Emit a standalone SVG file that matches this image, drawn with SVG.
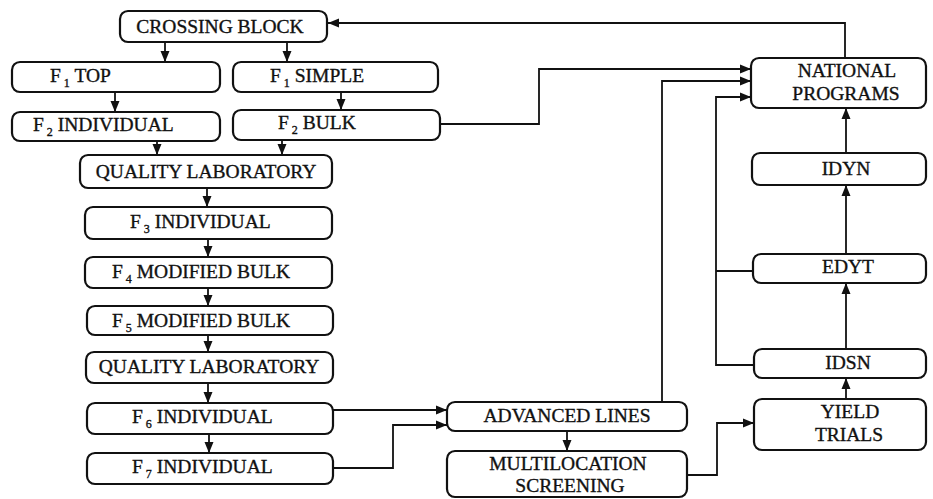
<svg xmlns="http://www.w3.org/2000/svg" width="933" height="499" viewBox="0 0 933 499">
  <defs>
    <marker id="arr" markerUnits="userSpaceOnUse" markerWidth="12" markerHeight="10" refX="11" refY="5" orient="auto">
      <path d="M0,0.5 L11,5 L0,9.5 z" fill="#111"/>
    </marker>
    <style>
      .box { fill: #fff; stroke: #111; stroke-width: 2.2; }
      .lbl { font-family: "Liberation Serif", "Times New Roman", serif; font-size: 19.5px; fill: #111; stroke: #111; stroke-width: 0.35; }
      .sub { font-size: 12px; }
      .mid { text-anchor: middle; }
      .con { fill: none; stroke: #111; stroke-width: 1.8; }
      .arr { marker-end: url(#arr); }
    </style>
  </defs>
  <rect width="933" height="499" fill="#fff"/>

  <!-- connectors -->
  <g id="connectors">
    <path class="con arr" d="M845,58 V23 H328"/>
    <path class="con arr" d="M165,42 V62"/>
    <path class="con arr" d="M287,42 V62"/>
    <path class="con arr" d="M115,92 V112"/>
    <path class="con arr" d="M341,92 V110"/>
    <path class="con arr" d="M157,141 V155"/>
    <path class="con arr" d="M282,140 V155"/>
    <path class="con arr" d="M207,188 V207"/>
    <path class="con arr" d="M208,239 V257"/>
    <path class="con arr" d="M208,288 V306"/>
    <path class="con arr" d="M208,335 V352"/>
    <path class="con arr" d="M208,383 V403"/>
    <path class="con arr" d="M209,434 V453"/>
    <path class="con arr" d="M333,410 H447"/>
    <path class="con arr" d="M333,468 H393 V425 H447"/>
    <path class="con arr" d="M567,431 V451"/>
    <path class="con arr" d="M440,124 H539 V69 H751"/>
    <path class="con arr" d="M662,402 V81 H751"/>
    <path class="con arr" d="M754,365 H716 V97 H751"/>
    <path class="con" d="M753,271 H716"/>
    <path class="con arr" d="M687,475 H717 V423 H754"/>
    <path class="con arr" d="M846,399 V378"/>
    <path class="con arr" d="M846,349 V283"/>
    <path class="con arr" d="M846,254 V185"/>
    <path class="con arr" d="M846,153 V108"/>
  </g>

  <!-- breeding flow, left column -->
  <g id="crossing-block">
    <rect class="box" x="120" y="11" width="207" height="31" rx="8"/>
    <text class="lbl mid" x="220" y="33">CROSSING BLOCK</text>
  </g>
  <g id="f1-top">
    <rect class="box" x="12" y="62" width="208" height="30" rx="8"/>
    <text class="lbl" x="50" y="82">F<tspan class="sub" dx="3" dy="5">1</tspan><tspan dy="-5"> TOP</tspan></text>
  </g>
  <g id="f1-simple">
    <rect class="box" x="233" y="62" width="205" height="30" rx="8"/>
    <text class="lbl" x="270" y="82">F<tspan class="sub" dx="3" dy="5">1</tspan><tspan dy="-5"> SIMPLE</tspan></text>
  </g>
  <g id="f2-individual">
    <rect class="box" x="12" y="112" width="208" height="29" rx="8"/>
    <text class="lbl" x="33" y="131">F<tspan class="sub" dx="3" dy="5">2</tspan><tspan dy="-5"> INDIVIDUAL</tspan></text>
  </g>
  <g id="f2-bulk">
    <rect class="box" x="233" y="110" width="207" height="30" rx="8"/>
    <text class="lbl" x="278" y="129">F<tspan class="sub" dx="3" dy="5">2</tspan><tspan dy="-5"> BULK</tspan></text>
  </g>
  <g id="quality-lab-1">
    <rect class="box" x="80" y="155" width="252" height="33" rx="8"/>
    <text class="lbl mid" x="206" y="178">QUALITY LABORATORY</text>
  </g>
  <g id="f3-individual">
    <rect class="box" x="85" y="207" width="247" height="32" rx="8"/>
    <text class="lbl" x="130" y="228">F<tspan class="sub" dx="3" dy="5">3</tspan><tspan dy="-5"> INDIVIDUAL</tspan></text>
  </g>
  <g id="f4-modified-bulk">
    <rect class="box" x="85" y="257" width="247" height="31" rx="8"/>
    <text class="lbl" x="112" y="278">F<tspan class="sub" dx="3" dy="5">4</tspan><tspan dy="-5"> MODIFIED BULK</tspan></text>
  </g>
  <g id="f5-modified-bulk">
    <rect class="box" x="87" y="306" width="246" height="29" rx="8"/>
    <text class="lbl" x="112" y="327">F<tspan class="sub" dx="3" dy="5">5</tspan><tspan dy="-5"> MODIFIED BULK</tspan></text>
  </g>
  <g id="quality-lab-2">
    <rect class="box" x="86" y="352" width="247" height="31" rx="8"/>
    <text class="lbl mid" x="209" y="373">QUALITY LABORATORY</text>
  </g>
  <g id="f6-individual">
    <rect class="box" x="87" y="403" width="246" height="31" rx="8"/>
    <text class="lbl" x="132" y="423">F<tspan class="sub" dx="3" dy="5">6</tspan><tspan dy="-5"> INDIVIDUAL</tspan></text>
  </g>
  <g id="f7-individual">
    <rect class="box" x="87" y="453" width="246" height="31" rx="8"/>
    <text class="lbl" x="132" y="473">F<tspan class="sub" dx="3" dy="5">7</tspan><tspan dy="-5"> INDIVIDUAL</tspan></text>
  </g>

  <!-- advanced material -->
  <g id="advanced-lines">
    <rect class="box" x="447" y="402" width="240" height="29" rx="8"/>
    <text class="lbl mid" x="567" y="422">ADVANCED LINES</text>
  </g>
  <g id="multilocation-screening">
    <rect class="box" x="447" y="451" width="240" height="46" rx="8"/>
    <text class="lbl mid" x="568" y="470">MULTILOCATION</text>
    <text class="lbl mid" x="570" y="492">SCREENING</text>
  </g>

  <!-- international nurseries, right column -->
  <g id="national-programs">
    <rect class="box" x="751" y="58" width="175" height="50" rx="8"/>
    <text class="lbl mid" x="847" y="77">NATIONAL</text>
    <text class="lbl mid" x="846" y="100">PROGRAMS</text>
  </g>
  <g id="idyn">
    <rect class="box" x="752" y="153" width="174" height="32" rx="8"/>
    <text class="lbl mid" x="846" y="175">IDYN</text>
  </g>
  <g id="edyt">
    <rect class="box" x="753" y="254" width="173" height="29" rx="8"/>
    <text class="lbl mid" x="848" y="273">EDYT</text>
  </g>
  <g id="idsn">
    <rect class="box" x="754" y="349" width="172" height="29" rx="8"/>
    <text class="lbl mid" x="848" y="369">IDSN</text>
  </g>
  <g id="yield-trials">
    <rect class="box" x="754" y="399" width="172" height="51" rx="8"/>
    <text class="lbl mid" x="850" y="418">YIELD</text>
    <text class="lbl mid" x="849" y="441">TRIALS</text>
  </g>
</svg>
